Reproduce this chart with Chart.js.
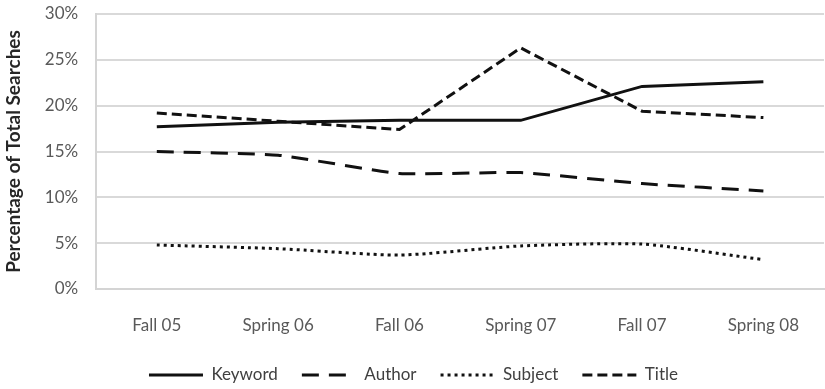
<!DOCTYPE html>
<html>
<head>
<meta charset="utf-8">
<script src="https://cdn.jsdelivr.net/npm/chart.js@4"></script>
<style>
  html, body { margin: 0; padding: 0; background: #fff; }
  #wrap { width: 825px; height: 389px; }
</style>
</head>
<body>
<div id="wrap"><canvas id="c" width="825" height="389"></canvas></div>
<script>
// Share of total catalog searches by search type, per semester
const semesters = ['Fall 05', 'Spring 06', 'Fall 06', 'Spring 07', 'Fall 07', 'Spring 08'];
const keyword = [17.7, 18.2, 18.4, 18.4, 22.1, 22.6];
const author  = [15.0, 14.6, 12.6, 12.7, 11.5, 10.7];
const subject = [4.8, 4.4, 3.7, 4.7, 4.9, 3.2];
const title   = [19.2, 18.3, 17.4, 26.3, 19.4, 18.7];
const yTicks  = [0, 5, 10, 15, 20, 25, 30];

const FONT = 'Lato, "Open Sans", "Liberation Sans", sans-serif';

function series(label, data, dash, tension) {
  return {
    label, data,
    borderColor: '#111',
    backgroundColor: '#111',
    borderWidth: 3,
    borderDash: dash,
    borderCapStyle: 'butt',
    pointRadius: 0,
    pointHoverRadius: 0,
    pointStyle: 'line',
    tension: tension,
    fill: false
  };
}

// legend entries drawn as short line samples carrying each series' dash pattern
function lineLabels(chart) {
  return chart.data.datasets.map((ds, i) => ({
    text: ds.label,
    datasetIndex: i,
    hidden: !chart.isDatasetVisible(i),
    fillStyle: ds.borderColor,
    strokeStyle: ds.borderColor,
    fontColor: '#404040',
    lineWidth: ds.borderWidth,
    lineDash: ds.borderDash,
    lineCap: 'butt',
    pointStyle: 'line'
  }));
}

new Chart(document.getElementById('c'), {
  type: 'line',
  data: {
    labels: semesters,
    datasets: [
      series('Keyword', keyword, [], 0),
      series('Author', author, [17, 10], 0.15),
      series('Subject', subject, [3, 4], 0.2),
      series('Title', title, [10, 5], 0)
    ]
  },
  options: {
    responsive: false,
    animation: false,
    layout: { padding: { top: 0, right: 0, left: 2, bottom: -4.5 } },
    plugins: {
      tooltip: { enabled: false },
      legend: {
        position: 'bottom',
        labels: {
          usePointStyle: true,
          pointStyleWidth: 54,
          boxHeight: 16,
          padding: 24,
          color: '#404040',
          font: { family: FONT, size: 17 },
          generateLabels: lineLabels
        }
      }
    },
    scales: {
      x: {
        offset: true,
        grid: { display: false, drawTicks: false },
        border: { display: true, color: '#d4d4d4', width: 2 },
        ticks: {
          color: '#595959',
          padding: 26,
          font: { family: FONT, size: 17 }
        },
        // room for the labels only; the legend sits right beneath
        afterFit: axis => { axis.height = 53.5; }
      },
      y: {
        min: 0, max: 30,
        afterBuildTicks: axis => { axis.ticks = yTicks.map(v => ({ value: v })); },
        afterFit: axis => { axis.paddingTop = 14; },
        grid: { color: '#d9d9d9', lineWidth: 2, drawTicks: false },
        border: { display: true, color: '#d4d4d4', width: 2 },
        ticks: {
          color: '#595959',
          padding: 18,
          font: { family: FONT, size: 17 },
          callback: v => v + '%'
        },
        title: {
          display: true,
          text: 'Percentage of Total Searches',
          color: '#262626',
          padding: { top: 0, bottom: 2 },
          font: { family: FONT, size: 19, weight: 'bold' }
        }
      }
    }
  }
});
</script>
</body>
</html>
